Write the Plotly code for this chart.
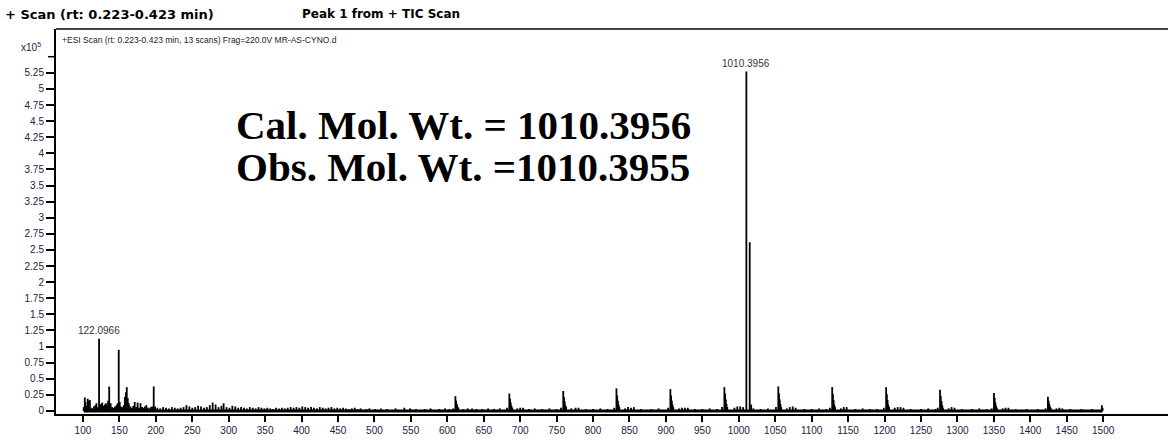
import plotly.graph_objects as go

# ---------------- data (intensity in units of 1e5 counts) ----------------
low_mz = [101, 102.5, 103.5, 105, 106.5, 108, 109.5, 111, 113, 115, 117, 118.5, 120,
          122.1, 123.5, 125, 126.5, 128, 130, 131.5, 133, 134.5, 136, 138, 140, 142,
          144, 146, 147.5, 149.1, 150.5, 152, 154, 156, 157.5, 159, 160.1, 161.5, 163,
          165, 167, 169, 171, 173, 175, 177, 179, 181, 183, 185, 187, 189, 191, 193,
          195, 197.1, 199]
low_int = [0.06, 0.21, 0.14, 0.08, 0.19, 0.16, 0.17, 0.05, 0.04, 0.07, 0.09, 0.12, 0.06,
           1.12, 0.09, 0.11, 0.13, 0.08, 0.10, 0.12, 0.09, 0.16, 0.38, 0.12, 0.06, 0.05,
           0.07, 0.09, 0.12, 0.95, 0.14, 0.07, 0.06, 0.09, 0.22, 0.29, 0.37, 0.20, 0.12,
           0.07, 0.05, 0.08, 0.14, 0.06, 0.13, 0.05, 0.12, 0.06, 0.05, 0.07, 0.09, 0.05,
           0.04, 0.06, 0.07, 0.38, 0.07]

mid_mz = [202, 206, 210, 214, 218, 222, 226, 230, 234, 238, 242, 246, 250, 254, 258,
          262, 266, 270, 274, 278, 282, 286, 290, 293, 297, 301, 305, 309, 313, 317,
          321, 325, 329, 333, 337, 341, 345, 349, 353, 357, 361, 365, 369, 373, 377,
          381, 385, 389, 393, 397, 401, 405, 409, 413, 417, 421, 425, 429, 433, 437,
          441, 445, 449, 453, 457, 461, 465, 469, 473, 477, 481, 489, 493, 501, 509,
          517, 529, 541, 549, 557, 569, 577, 589, 597, 603]
mid_int = [0.05, 0.04, 0.06, 0.05, 0.04, 0.06, 0.05, 0.04, 0.05, 0.06, 0.09, 0.07, 0.05,
           0.06, 0.08, 0.07, 0.05, 0.06, 0.09, 0.13, 0.10, 0.06, 0.08, 0.12, 0.06, 0.05,
           0.08, 0.07, 0.05, 0.06, 0.05, 0.04, 0.06, 0.05, 0.04, 0.06, 0.05, 0.04, 0.05,
           0.04, 0.03, 0.05, 0.04, 0.05, 0.04, 0.05, 0.06, 0.05, 0.06, 0.05, 0.07, 0.06,
           0.05, 0.06, 0.05, 0.04, 0.06, 0.05, 0.04, 0.05, 0.06, 0.04, 0.05, 0.04, 0.05,
           0.04, 0.03, 0.04, 0.05, 0.03, 0.04, 0.03, 0.04, 0.03, 0.04, 0.03, 0.04, 0.05,
           0.04, 0.03, 0.03, 0.04, 0.03, 0.04, 0.03]

hi_mz = [608, 611.1, 612.1, 613.1, 614.1, 615.1, 622, 628, 634, 640, 648, 656, 664, 672,
         682, 685.1, 686.1, 687.1, 688.1, 689.1, 696, 700, 704, 712, 720, 730, 740, 750,
         756, 759.1, 760.1, 761.1, 762.1, 763.1, 770, 776, 780, 790, 800, 810, 820,
         829, 832.1, 833.1, 834.1, 835.1, 836.1, 844, 848, 852, 856, 866, 880, 890,
         903, 906.1, 907.1, 908.1, 909.1, 910.1, 918, 922, 926, 930, 940, 950, 960, 970,
         977, 980.2, 981.2, 982.2, 983.2, 984.2, 994, 998, 1002, 1006,
         1010.4, 1015.0, 1017.0, 1020, 1030, 1040,
         1051, 1054.2, 1055.2, 1056.2, 1057.2, 1058.2, 1066, 1070, 1074, 1078, 1090, 1100,
         1110, 1120,
         1125, 1128.2, 1129.2, 1130.2, 1131.2, 1132.2, 1140, 1144, 1148, 1160, 1170, 1180,
         1190,
         1199, 1202.2, 1203.2, 1204.2, 1205.2, 1206.2, 1214, 1218, 1222, 1226, 1236, 1250,
         1260, 1270,
         1273, 1276.2, 1277.2, 1278.2, 1279.2, 1280.2, 1288, 1292, 1296, 1306, 1320, 1330,
         1340,
         1347, 1350.2, 1351.2, 1352.2, 1353.2, 1354.2, 1362, 1366, 1370, 1380, 1395, 1410,
         1421, 1424.2, 1425.2, 1426.2, 1427.2, 1428.2, 1436, 1440, 1444, 1455, 1470, 1485,
         1498.2, 1499.2]
hi_int = [0.04, 0.23, 0.16, 0.11, 0.07, 0.05, 0.03, 0.04, 0.04, 0.03, 0.03, 0.04, 0.03, 0.04,
          0.05, 0.27, 0.19, 0.13, 0.08, 0.05, 0.04, 0.05, 0.05, 0.03, 0.04, 0.03, 0.04, 0.03,
          0.05, 0.31, 0.22, 0.15, 0.09, 0.06, 0.04, 0.05, 0.05, 0.03, 0.03, 0.04, 0.03,
          0.05, 0.35, 0.24, 0.16, 0.10, 0.06, 0.04, 0.06, 0.05, 0.06, 0.03, 0.03, 0.04,
          0.05, 0.34, 0.24, 0.16, 0.10, 0.06, 0.04, 0.05, 0.05, 0.05, 0.03, 0.03, 0.04, 0.03,
          0.06, 0.37, 0.27, 0.18, 0.11, 0.06, 0.05, 0.07, 0.07, 0.06,
          5.27, 2.62, 0.10, 0.04, 0.03, 0.04,
          0.06, 0.38, 0.27, 0.18, 0.11, 0.06, 0.04, 0.06, 0.07, 0.05, 0.03, 0.03,
          0.04, 0.03,
          0.05, 0.37, 0.26, 0.17, 0.10, 0.06, 0.04, 0.06, 0.06, 0.03, 0.04, 0.03,
          0.03,
          0.05, 0.37, 0.26, 0.17, 0.10, 0.06, 0.05, 0.06, 0.06, 0.05, 0.03, 0.03,
          0.04, 0.03,
          0.05, 0.33, 0.23, 0.15, 0.09, 0.05, 0.04, 0.06, 0.05, 0.03, 0.03, 0.04,
          0.03,
          0.04, 0.28, 0.20, 0.13, 0.08, 0.05, 0.04, 0.05, 0.05, 0.03, 0.03, 0.03,
          0.04, 0.22, 0.16, 0.11, 0.07, 0.05, 0.04, 0.05, 0.04, 0.03, 0.03, 0.03,
          0.09, 0.05]

label_mz = [122.1, 1010.4]
label_int = [1.12, 5.27]
label_txt = ["122.0966", "1010.3956"]

x_tick_vals = list(range(100, 1501, 50))
y_tick_vals = [0, 0.25, 0.5, 0.75, 1, 1.25, 1.5, 1.75, 2, 2.25, 2.5, 2.75, 3, 3.25,
               3.5, 3.75, 4, 4.25, 4.5, 4.75, 5, 5.25]
y_tick_txt = ["0", "0.25", "0.5", "0.75", "1", "1.25", "1.5", "1.75", "2", "2.25", "2.5",
              "2.75", "3", "3.25", "3.5", "3.75", "4", "4.25", "4.5", "4.75", "5", "5.25"]
y_unlabeled_ticks = [5.5]

# ---------------- build stick spectrum ----------------
all_mz = low_mz + mid_mz + hi_mz
all_int = low_int + mid_int + hi_int
xs, ys = [], []
for m, v in zip(all_mz, all_int):
    xs += [m, m, None]
    ys += [0, v, None]

fig = go.Figure()
fig.add_trace(go.Scatter(x=[min(all_mz), max(all_mz)], y=[0, 0], mode="lines",
                         line=dict(color="black", width=3), hoverinfo="skip",
                         showlegend=False))
fig.add_trace(go.Scatter(x=xs, y=ys, mode="lines", line=dict(color="black", width=1.8),
                         showlegend=False))

# plot area in pixels: left 56, right 1168, top 29, bottom 414
PW, PH, L, B = 1112.0, 385.0, 56.0, 414.0
def px(x):
    return (x - L) / PW
def py(y):
    return (B - y) / PH

ann = []
for m, v, t in zip(label_mz, label_int, label_txt):
    ann.append(dict(x=m, y=v, xref="x", yref="y", text=t, showarrow=False,
                    yanchor="bottom", yshift=1,
                    font=dict(family="Liberation Sans", size=10, color="#333333")))

ann += [
    dict(x=px(3), y=py(14), text="<b>+ Scan (rt: 0.223-0.423 min)</b>",
         font=dict(family="DejaVu Sans", size=13, color="black")),
    dict(x=px(300), y=py(14), text="<b>Peak 1 from + TIC Scan</b>",
         font=dict(family="DejaVu Sans", size=12, color="black")),
    dict(x=px(60), y=py(40),
         text="+ESI Scan (rt: 0.223-0.423 min, 13 scans) Frag=220.0V MR-AS-CYNO.d",
         font=dict(family="Liberation Sans", size=8.5, color="#222222")),
    dict(x=px(19), y=py(47), text="x10<sup>5</sup>",
         font=dict(family="Liberation Sans", size=10, color="#222244")),
    dict(x=px(234), y=py(125), text="<b>Cal. Mol. Wt. = 1010.3956</b>",
         font=dict(family="Liberation Serif", size=41, color="black")),
    dict(x=px(234), y=py(167), text="<b>Obs. Mol. Wt. =1010.3955</b>",
         font=dict(family="Liberation Serif", size=41, color="black")),
]
for a in ann[len(label_mz):]:
    a.update(xref="paper", yref="paper", xanchor="left", yanchor="middle",
             showarrow=False)

shapes = [dict(type="line", xref="paper", yref="paper", x0=0, x1=1, y0=1, y1=1,
               line=dict(color="#444444", width=2))]
for t in y_unlabeled_ticks:
    shapes.append(dict(type="line", xref="paper", yref="y", x0=-8 / PW, x1=0, y0=t, y1=t,
                       line=dict(color="black", width=1.5)))

fig.update_layout(
    width=1168, height=441,
    margin=dict(l=56, r=0, t=29, b=27, pad=0),
    paper_bgcolor="white", plot_bgcolor="white",
    annotations=ann,
    shapes=shapes,
    xaxis=dict(range=[63, 1589], tickmode="array", tickvals=x_tick_vals,
               showgrid=False, zeroline=False, showline=True, linecolor="black",
               linewidth=2, ticks="outside", ticklen=6, tickwidth=1.5,
               tickcolor="black",
               tickfont=dict(family="Liberation Sans", size=10, color="#222244")),
    yaxis=dict(range=[-0.047, 5.93], tickmode="array", tickvals=y_tick_vals,
               ticktext=y_tick_txt, showgrid=False, zeroline=False, showline=True,
               linecolor="black", linewidth=2, ticks="outside", ticklen=8,
               tickwidth=1.5, tickcolor="black",
               tickfont=dict(family="Liberation Sans", size=10, color="#222244")),
)

fig.write_html("out.html")
